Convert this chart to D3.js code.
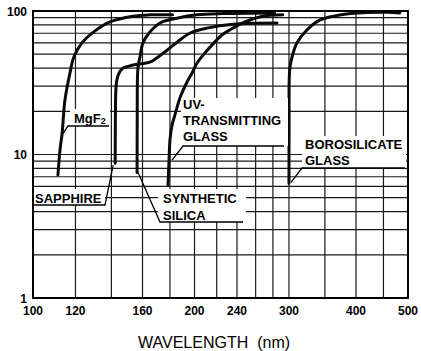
<!DOCTYPE html>
<html>
<head>
<meta charset="utf-8">
<script src="https://cdn.jsdelivr.net/npm/d3@7"></script>
<style>
  body { margin: 0; background: #fff; }
  svg { display: block; font-family: "Liberation Sans", Arial, sans-serif; }
</style>
</head>
<body>
<div id="chart"></div>
<script>

// axis ticks and grid (wavelength in nm, transmittance in %)
var xTickLabels = [100, 120, 160, 200, 240, 300, 400, 500];
var xGridLines = [100, 120, 140, 160, 180, 200, 220, 240, 260, 280, 300, 350, 400, 450, 500];
var yTickLabels = [1, 10, 100];
var yGridLines = [1, 2, 3, 4, 5, 6, 7, 8, 9, 10, 20, 30, 40, 50, 60, 70, 80, 90, 100];

// window materials
var mgf2Wave = [111.3, 112.3, 113.3, 114.7, 117.2, 119.2, 123.4, 129.4, 139.2, 153.6, 165, 182];
var mgf2Trans = [7.2, 10.8, 14, 24, 37, 48, 60, 71, 84, 92, 94, 94];

var sapphireWave = [142.3, 142.4, 142.7, 143.3, 144.7, 147.2, 153.6, 165, 170, 178, 186, 196, 211, 236, 285];
var sapphireTrans = [8.7, 17, 28, 33, 37, 40, 42, 44, 47, 53.5, 61, 70, 76, 81, 82.5];

var silicaWave = [156.3, 156.4, 156.6, 157, 158.3, 160.3, 165, 172.5, 185.5, 202, 226, 282];
var silicaTrans = [7.5, 17, 35, 41, 48, 60, 71, 82.5, 89, 94, 96, 97];

var uvWave = [178.5, 179.3, 180, 181.6, 183.9, 187.9, 193.7, 197.9, 202.2, 207.5, 213.8, 225, 233, 248.5, 268, 292];
var uvTrans = [6.1, 9.15, 12.6, 16, 18.9, 24.8, 32, 37, 43.4, 49.3, 56, 68, 74, 84, 92, 94];

var boroWave = [300, 300.1, 300.3, 301.3, 304, 310.5, 324, 343, 373, 419, 457, 483];
var boroTrans = [6.3, 17, 33, 40.7, 47.8, 60, 73.7, 86.6, 93.8, 97.5, 98, 97];

/**
 * Constructor for the transmittance chart
 */
function TransChart(){
    var self = this;
    self.init();
};

/**
 * Sets up the svg, scales and the plot group
 */
TransChart.prototype.init = function(){
    var self = this;
    self.margin = {top: 11, right: 13, bottom: 53, left: 33};
    self.svgWidth = 421;
    self.svgHeight = 351;
    self.width = self.svgWidth - self.margin.left - self.margin.right;
    self.height = self.svgHeight - self.margin.top - self.margin.bottom;

    self.svg = d3.select("#chart").append("svg")
        .attr("width", self.svgWidth)
        .attr("height", self.svgHeight);

    self.x = d3.scaleLog().domain([100, 500]).range([0, self.width]);
    self.y = d3.scaleLog().domain([1, 100]).range([self.height, 0]);

    self.plot = self.svg.append("g")
        .attr("transform", "translate(" + self.margin.left + "," + self.margin.top + ")");
};

/**
 * Draws grid, curves, ticks and the material labels
 */
TransChart.prototype.update = function(curves, labels){
    var self = this;
    var m = self.margin;

    // grid
    self.plot.selectAll(".vgrid").data(xGridLines).enter().append("line")
        .attr("x1", function(d){ return self.x(d); })
        .attr("x2", function(d){ return self.x(d); })
        .attr("y1", 0).attr("y2", self.height)
        .attr("stroke", "#1a1a1a").attr("stroke-width", 1.2);

    self.plot.selectAll(".hgrid").data(yGridLines).enter().append("line")
        .attr("x1", 0).attr("x2", self.width)
        .attr("y1", function(d){ return self.y(d); })
        .attr("y2", function(d){ return self.y(d); })
        .attr("stroke", "#1a1a1a").attr("stroke-width", 1.2);

    // white boxes behind the labels hide the grid
    labels.forEach(function(l){
        self.svg.append("rect")
            .attr("x", l.box[0]).attr("y", l.box[1])
            .attr("width", l.box[2] - l.box[0]).attr("height", l.box[3] - l.box[1])
            .attr("fill", "#fff");
    });

    var line = d3.line()
        .x(function(d){ return self.x(d[0]); })
        .y(function(d){ return self.y(d[1]); })
        .curve(d3.curveCatmullRom.alpha(0.5));

    self.plot.selectAll(".curve").data(curves).enter().append("path")
        .attr("d", function(c){ return line(d3.zip(c.wave, c.trans)); })
        .attr("fill", "none")
        .attr("stroke", "#0a0a0a")
        .attr("stroke-width", 3)
        .attr("stroke-linecap", "round");

    // frame
    self.plot.append("rect")
        .attr("x", 0).attr("y", 0)
        .attr("width", self.width).attr("height", self.height)
        .attr("fill", "none").attr("stroke", "#000").attr("stroke-width", 2);

    // tick labels
    self.svg.selectAll(".xt").data(xTickLabels).enter().append("text")
        .attr("x", function(d){ return m.left + self.x(d); })
        .attr("y", 315)
        .attr("text-anchor", "middle")
        .attr("font-size", 12).attr("font-weight", "bold")
        .text(function(d){ return d; });

    self.svg.selectAll(".yt").data(yTickLabels).enter().append("text")
        .attr("x", 27)
        .attr("y", function(d){ return m.top + self.y(d) + 4.5; })
        .attr("text-anchor", "end")
        .attr("font-size", 12).attr("font-weight", "bold")
        .text(function(d){ return d; });

    var title = self.svg.append("text")
        .attr("x", 138).attr("y", 348)
        .attr("font-size", 16);
    title.append("tspan").text("WAVELENGTH");
    title.append("tspan").attr("dx", 9).text("(nm)");

    // material labels with underline and leader to the curve
    labels.forEach(function(l){
        var c = curves[l.curve];
        var px = m.left + self.x(c.wave[l.at]) + l.off[0];
        var py = m.top + self.y(c.trans[l.at]) + l.off[1];

        l.lines.forEach(function(t, i){
            var txt = self.svg.append("text")
                .attr("x", l.tx).attr("y", l.ty[i])
                .attr("font-size", 13).attr("font-weight", "bold");
            if (t == "MgF2"){
                txt.append("tspan").text("MgF");
                txt.append("tspan").attr("font-size", 9).attr("dy", 1).text("2");
            } else {
                txt.text(t);
            }
        });

        self.svg.append("polyline")
            .attr("points", [[px, py], [l.under[0], l.under[2]], [l.under[1], l.under[2]]].join(" "))
            .attr("fill", "none").attr("stroke", "#000").attr("stroke-width", 1.3);
    });
};

var curves = [
    {name: "MgF2", wave: mgf2Wave, trans: mgf2Trans},
    {name: "Sapphire", wave: sapphireWave, trans: sapphireTrans},
    {name: "Synthetic silica", wave: silicaWave, trans: silicaTrans},
    {name: "UV glass", wave: uvWave, trans: uvTrans},
    {name: "Borosilicate", wave: boroWave, trans: boroTrans}
];

var labels = [
    {lines: ["MgF2"], tx: 74, ty: [123], box: [70, 109, 110, 126], under: [68, 109, 126], curve: 0, at: 2, off: [1, 0]},
    {lines: ["SAPPHIRE"], tx: 35, ty: [202.5], box: [34, 189, 105, 205], under: [105, 33, 205], curve: 1, at: 0, off: [-2, 2]},
    {lines: ["SYNTHETIC", "SILICA"], tx: 163, ty: [203, 220], box: [158, 189, 246, 222], under: [160, 243, 222], curve: 2, at: 0, off: [1, 0]},
    {lines: ["UV-", "TRANSMITTING", "GLASS"], tx: 183, ty: [109, 125, 141], box: [181, 98, 288, 146], under: [183, 284, 146], curve: 3, at: 1, off: [3, 0]},
    {lines: ["BOROSILICATE", "GLASS"], tx: 305, ty: [149, 165], box: [302, 136, 406, 168], under: [302, 405, 168], curve: 4, at: 0, off: [2, -1]}
];

var chart = new TransChart();
chart.update(curves, labels);

</script>
</body>
</html>
